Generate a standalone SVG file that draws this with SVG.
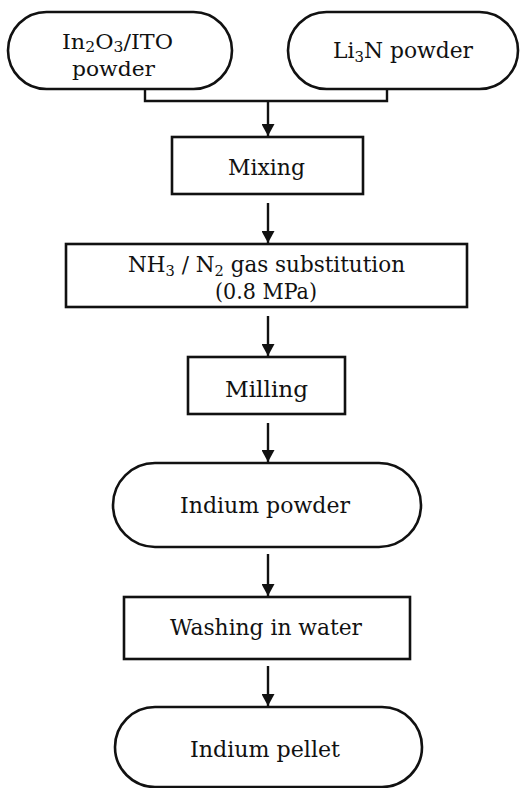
<svg xmlns="http://www.w3.org/2000/svg" width="520" height="788" viewBox="0 0 520 788">
<style>
.s{fill:#fff;stroke:#111;stroke-width:2.6}
.t{font-family:"DejaVu Serif","Liberation Serif",serif;font-size:22px;fill:#111;text-anchor:start}
.t2{font-size:20px}
.c{fill:none;stroke:#111;stroke-width:2.4}
</style>
<defs>
<marker id="ah" markerUnits="userSpaceOnUse" markerWidth="13" markerHeight="13" refX="12" refY="6.5" orient="auto">
<path d="M0,0 L12,6.5 L0,13 z" fill="#111"/>
</marker>
</defs>
<rect width="520" height="788" fill="#fff"/>
<g id="connectors">
<path class="c" d="M145,89 V101 H387 V89"/>
<path class="c" d="M268,101 V136" marker-end="url(#ah)"/>
<path class="c" d="M268,203 V243" marker-end="url(#ah)"/>
<path class="c" d="M268,316 V356" marker-end="url(#ah)"/>
<path class="c" d="M268,423 V462" marker-end="url(#ah)"/>
<path class="c" d="M268,554 V596" marker-end="url(#ah)"/>
<path class="c" d="M268,666 V706" marker-end="url(#ah)"/>
</g>
<g id="n-ito">
<rect class="s" x="8" y="12" width="224" height="77" rx="38.5"/>
<text class="t t2" x="62" y="49" textLength="111" lengthAdjust="spacingAndGlyphs">In<tspan font-size="14" dy="3">2</tspan><tspan dy="-3">O</tspan><tspan font-size="14" dy="3">3</tspan><tspan dy="-3">/ITO</tspan></text>
<text class="t t2" x="72" y="76" textLength="83" lengthAdjust="spacingAndGlyphs">powder</text>
</g>
<g id="n-li3n">
<rect class="s" x="288" y="12" width="230" height="77" rx="38.5"/>
<text class="t" x="333" y="58" textLength="140" lengthAdjust="spacingAndGlyphs">Li<tspan font-size="15" dy="4">3</tspan><tspan dy="-4">N powder</tspan></text>
</g>
<g id="n-mixing">
<rect class="s" x="172" y="137" width="191" height="57"/>
<text class="t" x="228" y="175" textLength="77" lengthAdjust="spacingAndGlyphs">Mixing</text>
</g>
<g id="n-gas">
<rect class="s" x="66" y="244" width="401" height="63"/>
<text class="t" x="128" y="272" textLength="277" lengthAdjust="spacingAndGlyphs">NH<tspan font-size="15" dy="4">3</tspan><tspan dy="-4"> / N</tspan><tspan font-size="15" dy="4">2</tspan><tspan dy="-4"> gas substitution</tspan></text>
<text class="t" x="215" y="299" textLength="102" lengthAdjust="spacingAndGlyphs">(0.8 MPa)</text>
</g>
<g id="n-milling">
<rect class="s" x="188" y="357" width="157" height="57"/>
<text class="t" x="225" y="397" textLength="83" lengthAdjust="spacingAndGlyphs">Milling</text>
</g>
<g id="n-indium-powder">
<rect class="s" x="113" y="463" width="308" height="84" rx="42"/>
<text class="t" x="180" y="513" textLength="170" lengthAdjust="spacingAndGlyphs">Indium powder</text>
</g>
<g id="n-washing">
<rect class="s" x="124" y="597" width="286" height="62"/>
<text class="t" x="170" y="635" textLength="192" lengthAdjust="spacingAndGlyphs">Washing in water</text>
</g>
<g id="n-pellet">
<rect class="s" x="115" y="707" width="307" height="80" rx="40"/>
<text class="t" x="190" y="757" textLength="150" lengthAdjust="spacingAndGlyphs">Indium pellet</text>
</g>
</svg>
